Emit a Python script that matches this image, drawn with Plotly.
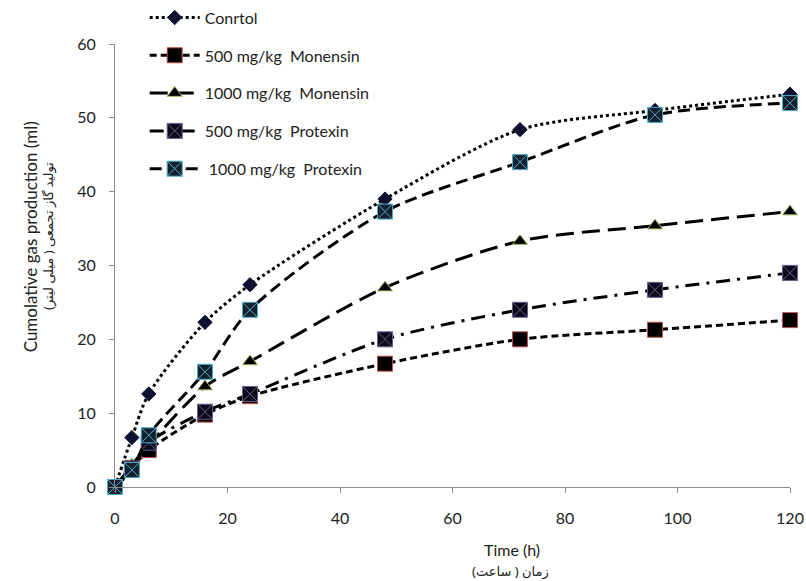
import plotly.graph_objects as go

hours = [0, 3, 6, 16, 24, 48, 72, 96, 120]
control = [0, 6.7, 12.6, 22.3, 27.4, 39.0, 48.4, 51.0, 53.2]
mon500 = [0, 2.6, 5.0, 9.8, 12.3, 16.7, 20.0, 21.3, 22.6]
mon1000 = [0, 3.0, 5.7, 13.6, 17.0, 27.0, 33.3, 35.4, 37.3]
pro500 = [0, 2.5, 6.0, 10.2, 12.6, 20.0, 24.0, 26.7, 29.0]
pro1000 = [0, 2.3, 7.0, 15.6, 24.0, 37.3, 44.0, 50.4, 52.0]

series_names = ["Conrtol", "500 mg/kg  Monensin", "1000 mg/kg  Monensin",
                "500 mg/kg  Protexin", " 1000 mg/kg  Protexin"]

FONT = "Lato, 'Open Sans', sans-serif"
AFONT = "'Noto Sans', 'DejaVu Sans', sans-serif"

styles = [
    dict(dash="dot", symbol="diamond", fill="#0d1030", edge="#0d1030", size=11),
    dict(dash="7px,4px", symbol="square", fill="#000000", edge="#c0504d", size=15),
    dict(dash="18px,8px", symbol="triangle-up", fill="#000000", edge="#9bbb59", size=13),
    dict(dash="14px,7px,3px,7px", symbol="square-x", fill="#0a0a1a", edge="#6a5a8a", size=15),
    dict(dash="12px,6px", symbol="square-x", fill="#14202e", edge="#4bacc6", size=15),
]

fig = go.Figure()
for i, (name, ys, st) in enumerate(zip(series_names, [control, mon500, mon1000, pro500, pro1000], styles)):
    fig.add_trace(go.Scatter(
        x=hours, y=ys, name=name, mode="lines+markers",
        legendgroup=f"g{i}",
        line=dict(color="black", width=3, dash=st["dash"], shape="spline", smoothing=0.8),
        marker=dict(symbol=st["symbol"], size=st["size"], color=st["fill"],
                    line=dict(color=st["edge"], width=1)),
        cliponaxis=False,
    ))

fig.update_layout(
    width=806, height=581,
    paper_bgcolor="white", plot_bgcolor="white",
    margin=dict(l=115, r=16, t=44, b=94, autoexpand=False),
    font=dict(family=FONT, size=16, color="#222"),
    showlegend=True,
    legend=dict(x=0.044, y=1.098, xanchor="left", yanchor="top",
                bgcolor="rgba(0,0,0,0)", font=dict(size=16, color="#222"),
                itemwidth=50, tracegroupgap=14, traceorder="grouped"),
    xaxis=dict(range=[0, 120], tickvals=[0, 20, 40, 60, 80, 100, 120],
               showgrid=False, zeroline=False, showline=True, linecolor="#8c8c8c",
               linewidth=1, ticks="outside", ticklen=5, tickcolor="#8c8c8c",
               tickfont=dict(size=16, color="#222"), ticklabelstandoff=12),
    yaxis=dict(range=[0, 60], tickvals=[0, 10, 20, 30, 40, 50, 60],
               showgrid=False, zeroline=False, showline=True, linecolor="#8c8c8c",
               linewidth=1, ticks="outside", ticklen=5, tickcolor="#8c8c8c",
               tickfont=dict(size=16, color="#222"), ticklabelstandoff=10),
)

fig.add_annotation(text="Cumolative gas production (ml)", xref="paper", yref="paper",
                   x=-0.125, y=0.565, xanchor="center", yanchor="middle", textangle=-90,
                   showarrow=False, font=dict(size=17, color="#222"))
fig.add_annotation(text="تولید گاز تجمعی ( میلی لیتر)", xref="paper", yref="paper",
                   x=-0.099, y=0.567, xanchor="center", yanchor="middle", textangle=-90,
                   showarrow=False, font=dict(size=13, color="#222", family=AFONT))
fig.add_annotation(text="Time (h)", xref="paper", yref="paper",
                   x=0.588, y=-0.140, xanchor="center", yanchor="middle",
                   showarrow=False, font=dict(size=16, color="#222"))
fig.add_annotation(text="زمان ( ساعت)", xref="paper", yref="paper",
                   x=0.586, y=-0.190, xanchor="center", yanchor="middle",
                   showarrow=False, font=dict(size=13, color="#222", family=AFONT))

fig.write_html("out.html", config={"displayModeBar": False},
               post_script="document.body.style.margin='0';")
